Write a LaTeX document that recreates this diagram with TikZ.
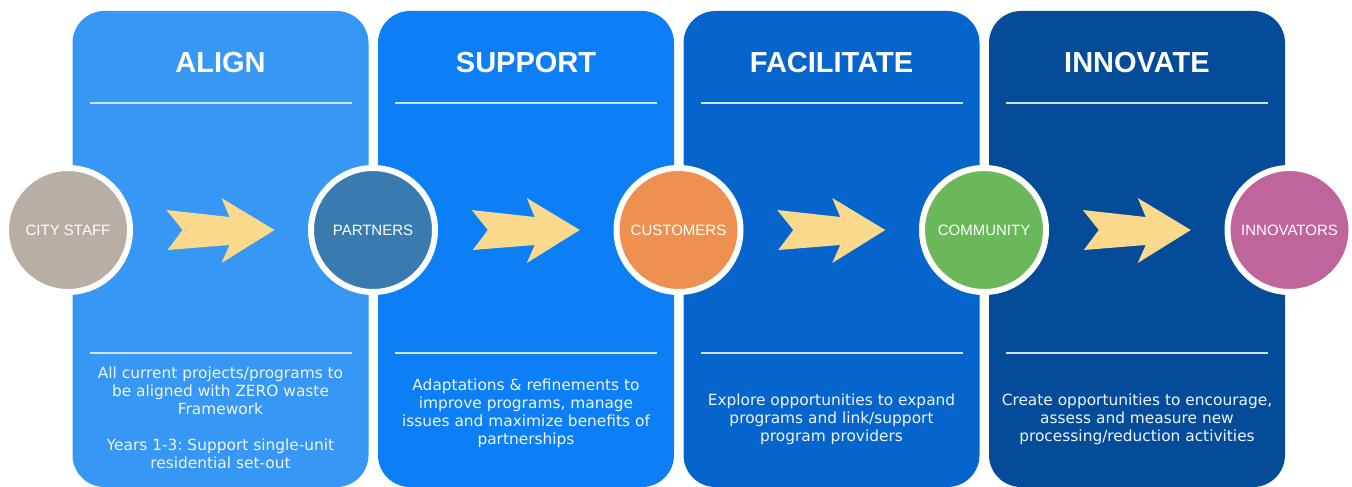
\documentclass[tikz,border=0pt]{standalone}
\usepackage{fontspec}
\setmainfont{Liberation Sans}
\newfontfamily\bodyfont{DejaVu Sans}
\usetikzlibrary{calc}
\frenchspacing
\definecolor{alignc}{HTML}{3797F5}
\definecolor{supportc}{HTML}{0C7FF7}
\definecolor{facilc}{HTML}{0665CD}
\definecolor{innovc}{HTML}{044C9A}
\definecolor{sepc}{HTML}{CFE3F7}
\definecolor{bodyc}{HTML}{EEF5FD}
\definecolor{arrowc}{HTML}{FAD98C}
\definecolor{staffc}{HTML}{B9AEA3}
\definecolor{partc}{HTML}{3A7BAF}
\definecolor{custc}{HTML}{EE9150}
\definecolor{commc}{HTML}{6AB85A}
\definecolor{innovatorc}{HTML}{C0649C}
\begin{document}
\begin{tikzpicture}[x=1pt,y=-1pt,
  panel/.style={rectangle, rounded corners=32pt, minimum width=296pt, minimum height=476pt, inner sep=0pt, draw=none},
  sepline/.style={draw=sepc, line width=2pt},
  title/.style={font=\bfseries\fontsize{29}{32}\selectfont, text=white, anchor=base},
  body/.style={font=\bodyfont\frenchspacing\fontsize{15.4}{18}\selectfont, text=bodyc, align=center, anchor=center},
  stage/.style={circle, minimum size=124pt, inner sep=0pt, draw=white, line width=6pt, text=white, font=\fontsize{15}{18}\selectfont},
  fatarrow/.pic={\fill[arrowc] (-54,-20) -- (9,-13) -- (1,-32) -- (54,0) -- (1,33) -- (9,15) -- (-53,20) -- (-38,0) -- cycle;}
]
\useasboundingbox (0,0) rectangle (1352,487);
\fill[white] (0,0) rectangle (1352,487);

% panels
\node[panel, fill=alignc]   (p1) at (220.5,249) {};
\node[panel, fill=supportc] (p2) at (526,249) {};
\node[panel, fill=facilc]   (p3) at (831.5,249) {};
\node[panel, fill=innovc]   (p4) at (1137,249) {};

% titles
\node[title] (t1) at (220.5,73) {ALIGN};
\node[title] (t2) at (526,73) {SUPPORT};
\node[title] (t3) at (831.5,73) {FACILITATE};
\node[title] (t4) at (1137,73) {INNOVATE};

% separators
\foreach \c in {220.5,526,831.5,1137}{
  \draw[sepline] (\c-131,102.5) -- (\c+131,102.5);
  \draw[sepline] (\c-131,352.5) -- (\c+131,352.5);
}

% stage circles
\node[stage, fill=staffc]     (cs) at (68,230) {CITY STAFF};
\node[stage, fill=partc]      (pa) at (373,230) {PARTNERS};
\node[stage, fill=custc]      (cu) at (678.5,230) {CUSTOMERS};
\node[stage, fill=commc]      (co) at (984,230) {COMMUNITY};
\node[stage, fill=innovatorc] (in) at (1289.5,230) {INNOVATORS};

% arrows
\pic at ($(cs)!0.5!(pa)$) {fatarrow};
\pic at ($(pa)!0.5!(cu)$) {fatarrow};
\pic at ($(cu)!0.5!(co)$) {fatarrow};
\pic at ($(co)!0.5!(in)$) {fatarrow};

% body texts
\node[body] (b1) at (220.5,418) {All current projects/programs to\\be aligned with ZERO waste\\Framework\\[18pt]Years 1-3: Support single-unit\\residential set-out};
\node[body] (b2) at (526,413) {Adaptations \& refinements to\\improve programs, manage\\issues and maximize benefits of\\partnerships};
\node[body] (b3) at (831.5,419) {Explore opportunities to expand\\programs and link/support\\program providers};
\node[body] (b4) at (1137,419) {Create opportunities to encourage,\\assess and measure new\\processing/reduction activities};
\end{tikzpicture}
\end{document}
